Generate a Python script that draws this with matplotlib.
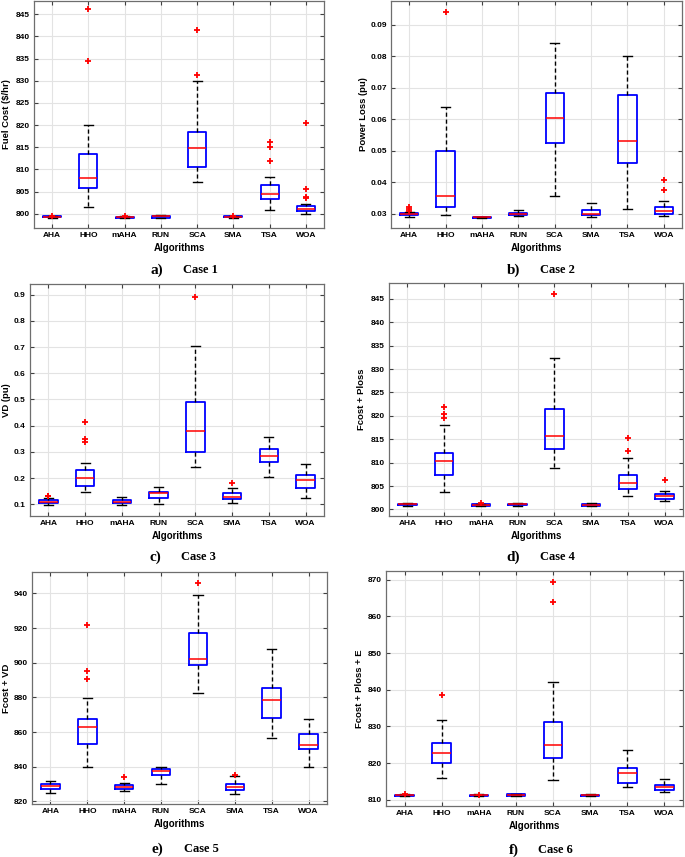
import matplotlib
matplotlib.use("Agg")
import matplotlib.pyplot as plt
import numpy as np

algos = ['AHA', 'HHO', 'mAHA', 'RUN', 'SCA', 'SMA', 'TSA', 'WOA']

# per case: q1, median, q3, lower whisker, upper whisker, outliers
c1_q1 = [799.2, 805.8, 799.1, 799.1, 810.5, 799.2, 803.4, 800.6]
c1_med = [799.3, 808.0, 799.2, 799.4, 814.9, 799.3, 804.5, 801.0]
c1_q3 = [799.4, 813.5, 799.3, 799.6, 818.4, 799.4, 806.4, 801.8]
c1_lo = [799.1, 801.6, 799.0, 799.0, 807.2, 799.1, 800.8, 800.0]
c1_hi = [799.5, 820.0, 799.4, 799.7, 830.0, 799.5, 808.2, 802.3]
c1_out = [[799.5], [834.5, 846.2], [799.4], [], [831.3, 841.4], [799.5],
          [811.8, 815.1, 816.2], [803.5, 803.9, 805.6, 820.4]]

c2_q1 = [0.0297, 0.0321, 0.0288, 0.0297, 0.0526, 0.0296, 0.0463, 0.0299]
c2_med = [0.0300, 0.0356, 0.0289, 0.0300, 0.0604, 0.0300, 0.0532, 0.0310]
c2_q3 = [0.0304, 0.0498, 0.0290, 0.0304, 0.0683, 0.0312, 0.0678, 0.0321]
c2_lo = [0.0291, 0.0296, 0.0288, 0.0293, 0.0356, 0.0289, 0.0315, 0.0293]
c2_hi = [0.0307, 0.0638, 0.0290, 0.0313, 0.0842, 0.0334, 0.0800, 0.0342]
c2_out = [[0.0310, 0.0314, 0.0322], [0.0942], [], [], [], [], [],
          [0.0377, 0.0407]]

c3_q1 = [0.104, 0.171, 0.103, 0.123, 0.300, 0.119, 0.262, 0.161]
c3_med = [0.110, 0.202, 0.110, 0.141, 0.378, 0.127, 0.286, 0.192]
c3_q3 = [0.117, 0.229, 0.116, 0.146, 0.489, 0.141, 0.309, 0.212]
c3_lo = [0.097, 0.146, 0.098, 0.101, 0.244, 0.106, 0.203, 0.124]
c3_hi = [0.125, 0.259, 0.127, 0.164, 0.706, 0.161, 0.355, 0.255]
c3_out = [[0.130, 0.133], [0.336, 0.348, 0.415], [], [], [0.893], [0.181],
          [], []]

c4_q1 = [800.9, 807.4, 800.8, 800.9, 813.0, 800.8, 804.4, 802.2]
c4_med = [801.1, 810.3, 801.0, 801.1, 815.6, 801.0, 805.7, 802.8]
c4_q3 = [801.2, 812.1, 801.1, 801.2, 821.4, 801.2, 807.4, 803.3]
c4_lo = [800.8, 803.7, 800.7, 800.8, 808.9, 800.7, 802.9, 801.8]
c4_hi = [801.3, 818.1, 801.2, 801.3, 832.4, 801.3, 810.9, 803.9]
c4_out = [[], [819.6, 820.5, 822.0], [801.3], [], [846.1], [],
          [812.4, 815.3], [806.4]]

c5_q1 = [827.3, 853.3, 826.9, 835.2, 898.5, 826.5, 867.9, 850.0]
c5_med = [828.7, 863.1, 828.3, 837.3, 902.3, 828.3, 878.3, 852.7]
c5_q3 = [830.2, 867.7, 829.2, 838.8, 917.1, 829.8, 885.6, 859.0]
c5_lo = [825.0, 840.0, 825.8, 830.2, 882.3, 824.2, 856.7, 839.6]
c5_hi = [831.7, 879.4, 830.8, 839.6, 939.0, 834.4, 907.9, 867.3]
c5_out = [[], [890.8, 895.4, 921.7], [834.2], [], [946.2], [835.4], [], []]

c6_q1 = [811.0, 820.1, 811.0, 811.0, 821.4, 811.0, 814.7, 812.8]
c6_med = [811.2, 822.7, 811.2, 811.3, 824.9, 811.2, 817.3, 813.5]
c6_q3 = [811.4, 825.6, 811.4, 811.5, 831.2, 811.4, 818.7, 814.1]
c6_lo = [810.9, 815.9, 810.9, 810.9, 815.3, 810.9, 813.4, 812.2]
c6_hi = [811.5, 831.7, 811.5, 811.6, 842.1, 811.5, 823.5, 815.7]
c6_out = [[811.5], [838.6], [811.4], [], [864.0, 869.4], [], [], []]

ylabels = ['Fuel Cost ($/hr)', 'Power Loss (pu)', 'VD (pu)', 'Fcost + Ploss',
           'Fcost + VD', 'Fcost + Ploss + E']
captions = [('a)', 'Case 1'), ('b)', 'Case 2'), ('c)', 'Case 3'),
            ('d)', 'Case 4'), ('e)', 'Case 5'), ('f)', 'Case 6')]
yticks = [np.arange(800, 846, 5), np.arange(0.03, 0.0901, 0.01),
          np.arange(0.1, 0.901, 0.1), np.arange(800, 846, 5),
          np.arange(820, 941, 20), np.arange(810, 871, 10)]
ylims = [(796.8, 848.0), (0.0255, 0.0976), (0.055, 0.941),
         (798.6, 848.4), (818.5, 952.3), (808.3, 872.4)]
tickfmt = ['%d', '%.2f', '%.1f', '%d', '%d', '%d']

cases = [(c1_q1, c1_med, c1_q3, c1_lo, c1_hi, c1_out),
         (c2_q1, c2_med, c2_q3, c2_lo, c2_hi, c2_out),
         (c3_q1, c3_med, c3_q3, c3_lo, c3_hi, c3_out),
         (c4_q1, c4_med, c4_q3, c4_lo, c4_hi, c4_out),
         (c5_q1, c5_med, c5_q3, c5_lo, c5_hi, c5_out),
         (c6_q1, c6_med, c6_q3, c6_lo, c6_hi, c6_out)]

# axes boxes in pixels: x0, x1, ytop, ybot
boxes = [(34, 324, 1, 228), (391, 682, 1, 228),
         (30, 324, 284, 516), (389, 683, 283, 516),
         (32, 327, 572, 804), (386, 683, 571, 806)]
capy = [270, 270, 557, 557, 849, 850]

W, H = 685, 857
fig = plt.figure(figsize=(W / 100, H / 100), dpi=100)
plt.rcParams['font.family'] = 'Liberation Sans'

for i, (q1, med, q3, lo, hi, out) in enumerate(cases):
    x0, x1, yt, yb = boxes[i]
    ax = fig.add_axes([x0 / W, 1 - yb / H, (x1 - x0) / W, (yb - yt) / H])
    stats = []
    for j in range(len(algos)):
        stats.append(dict(label=algos[j], q1=q1[j], med=med[j], q3=q3[j],
                          whislo=lo[j], whishi=hi[j], fliers=out[j]))
    ax.bxp(stats, widths=0.5, capwidths=0.25,
           boxprops=dict(color='#0000ff', linewidth=1.3),
           medianprops=dict(color='#ff0000', linewidth=1.1),
           whiskerprops=dict(color='black', linewidth=1.0, linestyle=(0, (3, 2))),
           capprops=dict(color='black', linewidth=1.0),
           flierprops=dict(marker='+', markeredgecolor='#ff0000',
                           markersize=5, markeredgewidth=1.3))
    ax.set_xlim(0.5, 8.5)
    ax.set_ylim(*ylims[i])
    ax.set_yticks(yticks[i])
    ax.set_yticklabels([tickfmt[i] % v for v in yticks[i]])
    ax.grid(True, color='#e3e3e3', linewidth=0.8)
    ax.set_axisbelow(True)
    ax.tick_params(direction='in', top=True, right=True, length=3,
                   width=0.8, color='#404040', labelsize=6, pad=3)
    for lab in ax.get_xticklabels() + ax.get_yticklabels():
        lab.set_fontweight('bold')
    for s in ax.spines.values():
        s.set_color('#6e6e6e')
        s.set_linewidth(0.9)
    ax.set_ylabel(ylabels[i], fontsize=6.8, fontweight='bold',
                  va='center', ha='center')
    lx = max(x0 - 27, 6)
    ax.yaxis.set_label_coords((lx - x0) / (x1 - x0), 0.5)
    ax.set_xlabel('Algorithms', fontsize=7, fontweight='bold', labelpad=3)

    xc = (x0 + x1) / 2
    fig.text((xc - 16) / W, 1 - capy[i] / H, captions[i][0],
             family='Liberation Serif', fontweight='bold', fontsize=11,
             ha='right', va='center')
    fig.text((xc + 4) / W, 1 - capy[i] / H, captions[i][1],
             family='Liberation Serif', fontweight='bold', fontsize=9,
             ha='left', va='center')

fig.savefig('out.png', dpi=100)
